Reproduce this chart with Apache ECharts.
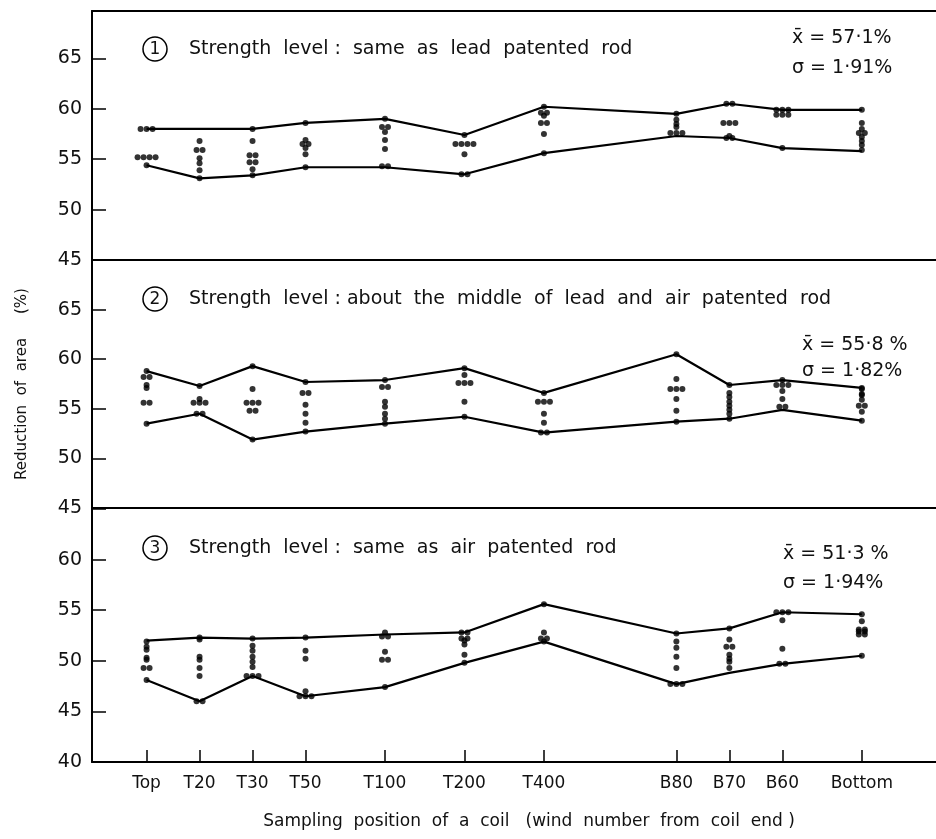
<!DOCTYPE html>
<html lang="en">
<head>
    <meta charset="UTF-8">
    <title>Reduction of area along the coil</title>
    <script src="https://cdn.jsdelivr.net/npm/echarts@6/dist/echarts.min.js"></script>
    <style>
        html, body { margin: 0; padding: 0; background: #fff; }
        #chart { width: 936px; height: 839px; }
    </style>
</head>
<body>
<div id="chart"></div>
<script>
    // sampling positions along the coil (spacing as drawn on the x axis)
    const sites = ['Top', 'T20', 'T30', 'T50', 'T100', 'T200', 'T400', 'B80', 'B70', 'B60', 'Bottom'];
    const sitePos = [0, 1, 2, 3, 4.5, 6, 7.5, 10, 11, 12, 13.5];

    // panel 1 : same as lead patented rod
    const upper1 = [58.0, 58.0, 58.0, 58.6, 59.0, 57.4, 60.2, 59.5, 60.5, 59.9, 59.9];
    const lower1 = [54.4, 53.1, 53.4, 54.2, 54.2, 53.5, 55.6, 57.3, 57.1, 56.1, 55.8];
    const dots1 = [
        [58.0, 58.0, 58.0, 55.2, 55.2, 55.2, 55.2, 54.4],
        [56.8, 55.9, 55.9, 55.1, 54.6, 53.9, 53.1],
        [58.0, 56.8, 55.4, 55.4, 54.7, 54.7, 54.0, 53.4],
        [58.6, 56.9, 56.5, 56.5, 56.1, 55.5, 54.2],
        [59.0, 58.2, 58.2, 57.7, 56.9, 56.0, 54.3, 54.3],
        [57.4, 56.5, 56.5, 56.5, 56.5, 55.5, 53.5, 53.5],
        [60.2, 59.6, 59.6, 59.3, 58.6, 58.6, 57.5, 55.6],
        [59.5, 58.9, 58.5, 58.2, 57.6, 57.6, 57.6],
        [60.5, 60.5, 58.6, 58.6, 58.6, 57.3, 57.1, 57.1],
        [59.9, 59.9, 59.9, 59.4, 59.4, 59.4, 56.1],
        [59.9, 58.6, 58.0, 57.6, 57.6, 57.2, 56.8, 56.4, 55.9]
    ];

    // panel 2 : about the middle of lead and air patented rod
    const upper2 = [58.8, 57.3, 59.3, 57.7, 57.9, 59.1, 56.6, 60.5, 57.4, 57.9, 57.1];
    const lower2 = [53.5, 54.5, 51.9, 52.7, 53.5, 54.2, 52.6, 53.7, 54.0, 54.9, 53.8];
    const dots2 = [
        [58.8, 58.2, 58.2, 57.4, 57.1, 55.6, 55.6, 53.5],
        [57.3, 56.0, 55.6, 55.6, 55.6, 54.5, 54.5],
        [59.3, 57.0, 55.6, 55.6, 55.6, 54.8, 54.8, 51.9],
        [57.7, 56.6, 56.6, 55.4, 54.5, 53.6, 52.7],
        [57.9, 57.2, 57.2, 55.7, 55.2, 54.5, 54.0, 53.5],
        [59.1, 58.4, 57.6, 57.6, 57.6, 55.7, 54.2],
        [56.6, 55.7, 55.7, 55.7, 54.5, 53.6, 52.6, 52.6],
        [60.5, 58.0, 57.0, 57.0, 57.0, 56.0, 54.8, 53.7],
        [57.4, 56.6, 56.2, 55.7, 55.3, 54.9, 54.5, 54.0],
        [57.9, 57.4, 57.4, 57.4, 56.8, 56.0, 55.2, 55.2],
        [57.1, 57.0, 56.5, 56.4, 55.9, 55.3, 55.3, 54.7, 53.8]
    ];

    // panel 3 : same as air patented rod
    const upper3 = [52.0, 52.3, 52.2, 52.3, 52.6, 52.8, 55.6, 52.7, 53.2, 54.8, 54.6];
    const lower3 = [48.1, 46.0, 48.5, 46.5, 47.4, 49.8, 51.9, 47.7, 48.8, 49.7, 50.5];
    const dots3 = [
        [51.9, 51.4, 51.1, 50.3, 50.1, 49.3, 49.3, 48.1],
        [52.3, 52.1, 50.4, 50.1, 49.3, 48.5, 46.0, 46.0],
        [52.2, 51.5, 51.0, 50.4, 49.9, 49.4, 48.5, 48.5, 48.5],
        [52.3, 51.0, 50.2, 47.0, 46.5, 46.5, 46.5],
        [52.8, 52.4, 52.4, 50.9, 50.1, 50.1, 47.4],
        [52.8, 52.8, 52.2, 52.2, 52.0, 51.6, 50.6, 49.8],
        [55.6, 52.8, 52.2, 52.2, 51.9],
        [52.7, 51.9, 51.3, 50.4, 49.3, 47.7, 47.7, 47.7],
        [53.2, 52.1, 51.4, 51.4, 50.6, 50.2, 49.9, 49.3],
        [54.8, 54.8, 54.8, 54.0, 51.2, 49.7, 49.7],
        [54.6, 53.9, 53.1, 53.1, 52.9, 52.9, 52.6, 52.6, 50.5]
    ];

    const panelText = [
        'Strength  level :  same  as  lead  patented  rod',
        'Strength  level : about  the  middle  of  lead  and  air  patented  rod',
        'Strength  level :  same  as  air  patented  rod'
    ];
    const meanText = ['x\u0304 = 57\u00b71%', 'x\u0304 = 55\u00b78 %', 'x\u0304 = 51\u00b73 %'];
    const sdText = ['\u03c3 = 1\u00b791%', '\u03c3 = 1\u00b782%', '\u03c3 = 1\u00b794%'];

    const FONT = '"DejaVu Sans", sans-serif';
    const chart = echarts.init(document.getElementById('chart'));

    // dots with equal values at one position are set side by side
    function dotData(dots) {
        const out = [];
        dots.forEach((list, i) => {
            const seen = {};
            list.forEach(v => {
                const n = list.filter(w => w === v).length;
                const k = seen[v] || 0;
                seen[v] = k + 1;
                out.push({ value: [sitePos[i], v], symbolOffset: [(k - (n - 1) / 2) * 6, 0] });
            });
        });
        return out;
    }
    const pairs = arr => arr.map((v, i) => [sitePos[i], v]);

    const grids = [
        { left: 92, right: 0, top: 11, height: 249, outerBoundsMode: 'none' },
        { left: 92, right: 0, top: 260, height: 248, outerBoundsMode: 'none' },
        { left: 92, right: 0, top: 508, height: 254, outerBoundsMode: 'none' }
    ];
    const yRanges = [[45, 69.7, 65], [45, 70, 65], [40, 65.1, 60]];

    const xAxes = [0, 1, 2].map(g => ({
        type: 'value', gridIndex: g, position: 'top', min: -1.03, max: 14.9,
        axisLine: { show: true, onZero: false, lineStyle: { color: '#000', width: 2 } },
        axisTick: { show: false }, axisLabel: { show: false }, splitLine: { show: false }
    }));
    xAxes.push({
        type: 'value', gridIndex: 2, position: 'bottom', min: -1.03, max: 14.9,
        axisLine: { show: true, onZero: false, lineStyle: { color: '#000', width: 2 } },
        axisTick: { show: true, inside: true, length: 12, customValues: sitePos, lineStyle: { color: '#000', width: 1.5 } },
        axisLabel: {
            show: true, customValues: sitePos, margin: 13,
            fontFamily: FONT, fontSize: 17, color: '#111',
            formatter: v => sites[sitePos.indexOf(v)] || ''
        },
        splitLine: { show: false }
    });

    const yAxes = yRanges.map((r, g) => ({
        type: 'value', gridIndex: g, min: r[0], max: r[1], interval: 5,
        axisLine: { show: true, onZero: false, lineStyle: { color: '#000', width: 2 } },
        axisTick: { show: true, inside: true, length: 14, lineStyle: { color: '#000', width: 1.5 } },
        axisLabel: {
            fontFamily: FONT, fontSize: 19, color: '#111', margin: 10,
            formatter: v => (v % 5 === 0 && v <= r[2]) ? String(v) : ''
        },
        splitLine: { show: false },
        name: g === 1 ? 'Reduction  of  area     (%)' : '',
        nameLocation: 'middle', nameGap: 62, nameRotate: 90,
        nameTextStyle: { fontFamily: FONT, fontSize: 15, color: '#111' }
    }));

    const series = [];
    [[upper1, lower1, dots1], [upper2, lower2, dots2], [upper3, lower3, dots3]].forEach((p, g) => {
        [p[0], p[1]].forEach(arr => series.push({
            type: 'line', xAxisIndex: g, yAxisIndex: g, data: pairs(arr),
            symbol: 'none', lineStyle: { color: '#000', width: 2.2 }, silent: true, z: 2
        }));
        series.push({
            type: 'scatter', xAxisIndex: g, yAxisIndex: g, data: dotData(p[2]),
            symbol: 'circle', symbolSize: 6, itemStyle: { color: '#000' }, z: 3
        });
    });

    const circleY = [49, 299, 548];
    const statY = [[38, 68], [345, 371], [554, 583]];
    const statX = [792, 802, 783];
    const graphic = [];
    circleY.forEach((cy, g) => {
        graphic.push({
            type: 'circle', shape: { cx: 155, cy: cy, r: 12 },
            style: { fill: 'none', stroke: '#000', lineWidth: 1.5 }
        });
        graphic.push({
            type: 'text', x: 155, y: cy + 1,
            style: { text: String(g + 1), fontFamily: FONT, fontSize: 17, fill: '#111', align: 'center', verticalAlign: 'middle' }
        });
        graphic.push({
            type: 'text', x: 189, y: cy,
            style: { text: panelText[g], fontFamily: FONT, fontSize: 19, fill: '#111', verticalAlign: 'middle' }
        });
        graphic.push({
            type: 'text', x: statX[g], y: statY[g][0],
            style: { text: meanText[g], fontFamily: FONT, fontSize: 19, fill: '#111', verticalAlign: 'middle' }
        });
        graphic.push({
            type: 'text', x: statX[g], y: statY[g][1],
            style: { text: sdText[g], fontFamily: FONT, fontSize: 19, fill: '#111', verticalAlign: 'middle' }
        });
    });
    graphic.push({
        type: 'text', x: 529, y: 822,
        style: {
            text: 'Sampling  position  of  a  coil   (wind  number  from  coil  end )',
            fontFamily: FONT, fontSize: 17, fill: '#111', align: 'center', verticalAlign: 'middle'
        }
    });

    chart.setOption({
        animation: false,
        backgroundColor: '#fff',
        grid: grids,
        xAxis: xAxes,
        yAxis: yAxes,
        series: series,
        graphic: graphic
    });
</script>
</body>
</html>
